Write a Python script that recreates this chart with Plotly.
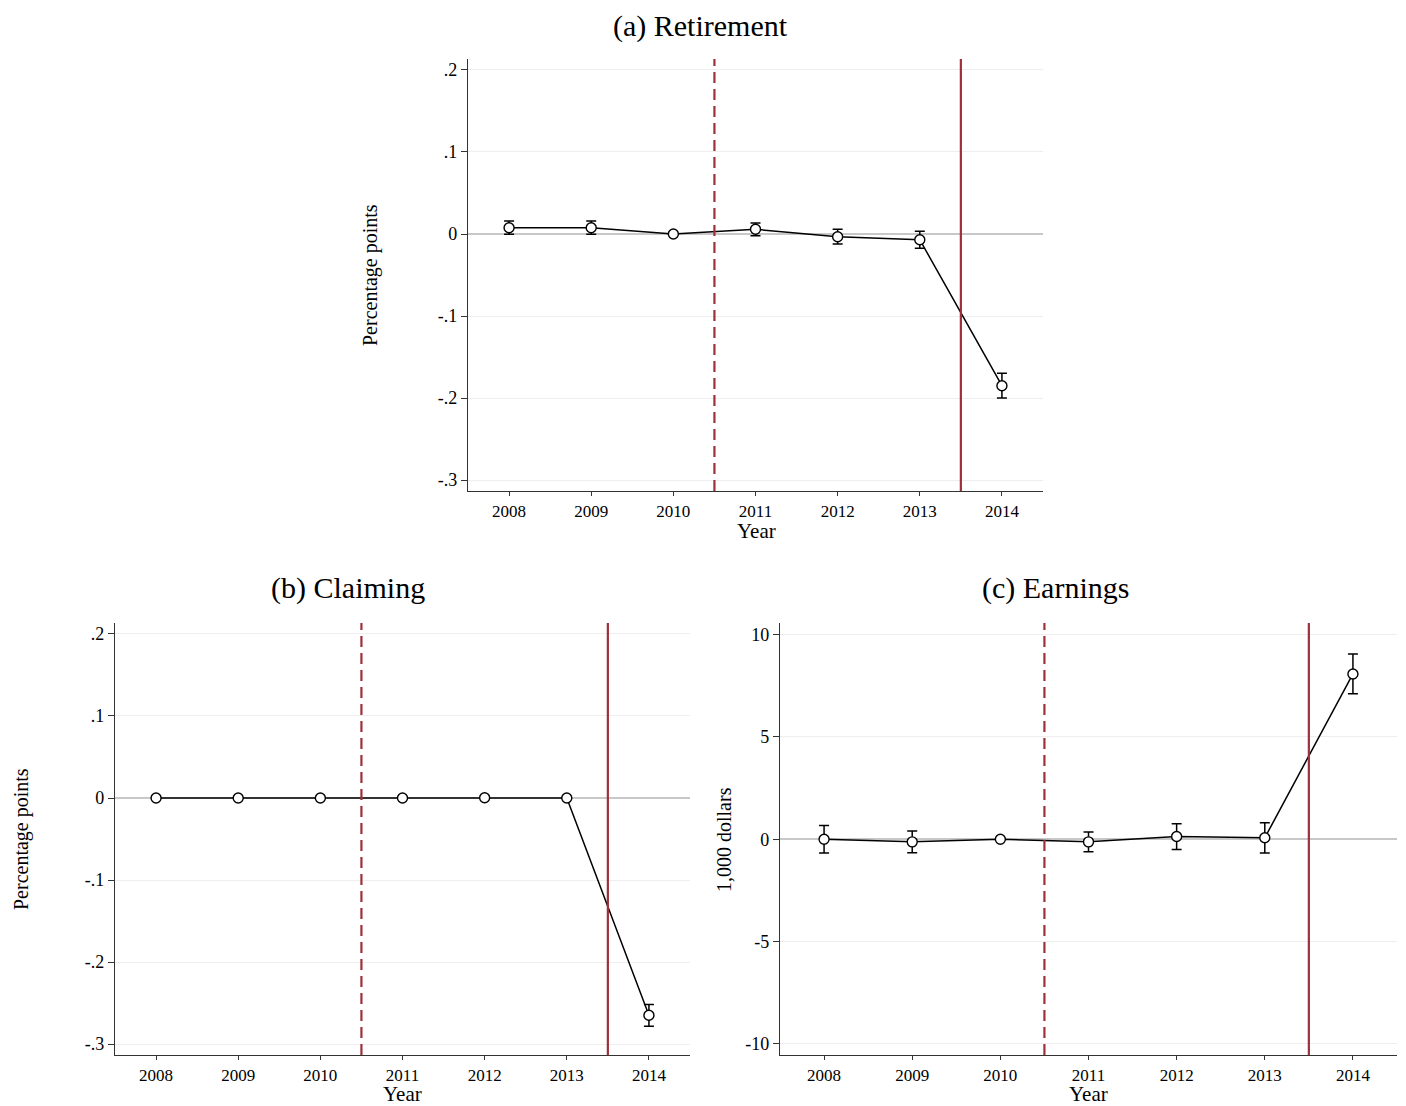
import plotly.graph_objs as go


# event-study coefficients
years = [2008, 2009, 2010, 2011, 2012, 2013, 2014]

retire_coef = [0.0077, 0.0077, 0.0, 0.0057, -0.0033, -0.007, -0.185]
retire_ci = [0.008, 0.008, 0.0, 0.0078, 0.009, 0.0104, 0.0151]

claim_coef = [0.0, 0.0, 0.0, 0.0, 0.0003, 0.0, -0.265]
claim_ci = [0.0005, 0.0005, 0.0, 0.0005, 0.0005, 0.0005, 0.0133]

earn_coef = [0.0, -0.13, 0.0, -0.13, 0.13, 0.07, 8.08]
earn_ci = [0.67, 0.53, 0.0, 0.48, 0.63, 0.74, 0.97]

# reference years (announcement / reform)
announce_year = 2010.5
reform_year = 2013.5

pp_ticks = [0.2, 0.1, 0, -0.1, -0.2, -0.3]
pp_labels = ['.2', '.1', '0', '-.1', '-.2', '-.3']
dollar_ticks = [10, 5, 0, -5, -10]
dollar_labels = ['10', '5', '0', '-5', '-10']

FONT = 'Liberation Serif'
RED = '#9e3039'
# page has an 8px body margin at top/left, so shift everything by that
OFF = 8
W, H = 1406 - OFF, 1106 - OFF


def px(x):
    return (x - OFF) / W


def py(y):
    return 1 - (y - OFF) / H


def make_trace(coef, ci, xa, ya):
    return go.Scatter(
        x=years, y=coef,
        xaxis=xa, yaxis=ya,
        mode='lines+markers',
        line=dict(color='black', width=1.5),
        marker=dict(symbol='circle', size=10, color='white',
                    line=dict(color='black', width=1.4)),
        error_y=dict(type='data', array=ci, visible=True,
                     color='black', thickness=1.5, width=5),
        showlegend=False,
        hoverinfo='x+y'
    )


fig = go.Figure()
fig.add_trace(make_trace(retire_coef, retire_ci, 'x', 'y'))
fig.add_trace(make_trace(claim_coef, claim_ci, 'x2', 'y2'))
fig.add_trace(make_trace(earn_coef, earn_ci, 'x3', 'y3'))

xaxis_style = dict(
    range=[2007.5, 2014.5],
    tickvals=years,
    ticks='outside', ticklen=4, tickwidth=1, tickcolor='#333333',
    showline=True, linecolor='#333333', linewidth=1.3,
    showgrid=False, zeroline=False,
    tickfont=dict(family=FONT, size=17, color='black'),
)

yaxis_style = dict(
    ticks='outside', ticklen=6, tickwidth=1, tickcolor='#333333',
    showline=True, linecolor='#333333', linewidth=1.3,
    showgrid=True, gridcolor='#eeeeee', gridwidth=1.2,
    zeroline=True, zerolinecolor='#c8c8c8', zerolinewidth=2.4,
    tickfont=dict(family=FONT, size=18, color='black'),
)

# panel boxes in pixel positions of the original figure
panel_a = dict(x0=468, x1=1043, y0=59, y1=491)
panel_b = dict(x0=115, x1=690, y0=623, y1=1055)
panel_c = dict(x0=780, x1=1397, y0=623, y1=1055)

layout = go.Layout(
    width=W, height=H,
    margin=dict(l=0, r=0, t=0, b=0),
    paper_bgcolor='white', plot_bgcolor='white',
    font=dict(family=FONT, color='black'),
    xaxis=dict(xaxis_style, domain=[px(panel_a['x0']), px(panel_a['x1'])], anchor='y'),
    yaxis=dict(yaxis_style, domain=[py(panel_a['y1']), py(panel_a['y0'])], anchor='x',
               range=[-0.3134, 0.2134], tickvals=pp_ticks, ticktext=pp_labels),
    xaxis2=dict(xaxis_style, domain=[px(panel_b['x0']), px(panel_b['x1'])], anchor='y2'),
    yaxis2=dict(yaxis_style, domain=[py(panel_b['y1']), py(panel_b['y0'])], anchor='x2',
                range=[-0.3134, 0.2134], tickvals=pp_ticks, ticktext=pp_labels),
    xaxis3=dict(xaxis_style, domain=[px(panel_c['x0']), px(panel_c['x1'])], anchor='y3'),
    yaxis3=dict(yaxis_style, domain=[py(panel_c['y1']), py(panel_c['y0'])], anchor='x3',
                range=[-10.55, 10.57], tickvals=dollar_ticks, ticktext=dollar_labels),
    hovermode='closest'
)
fig.update_layout(layout)

# vertical reference lines in every panel
for xr, yr in [('x', 'y'), ('x2', 'y2'), ('x3', 'y3')]:
    fig.add_shape(type='line', xref=xr, yref=yr + ' domain',
                  x0=announce_year, x1=announce_year, y0=0, y1=1,
                  line=dict(color=RED, width=2.2, dash='11px,6px'), layer='above')
    fig.add_shape(type='line', xref=xr, yref=yr + ' domain',
                  x0=reform_year, x1=reform_year, y0=0, y1=1,
                  line=dict(color=RED, width=2.2), layer='above')

# titles and axis labels
texts = [
    ('(a) Retirement', 700, 26, 30, 0),
    ('(b) Claiming', 348, 588, 30, 0),
    ('(c) Earnings', 1055, 588, 30, 0),
    ('Year', 756, 531, 21, 0),
    ('Year', 403, 1094, 21, 0),
    ('Year', 1088, 1094, 21, 0),
    ('Percentage points', 371, 275, 20, -90),
    ('Percentage points', 21, 839, 20, -90),
    ('1,000 dollars', 724, 839, 20, -90),
]
for txt, x, y, size, angle in texts:
    fig.add_annotation(text=txt, x=px(x), y=py(y), xref='paper', yref='paper',
                       showarrow=False, textangle=angle,
                       xanchor='center', yanchor='middle',
                       font=dict(family=FONT, size=size, color='black'))

fig.write_html("out.html")
